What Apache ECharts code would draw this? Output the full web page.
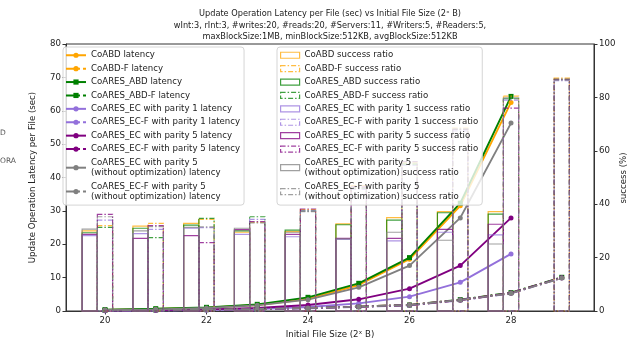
<!DOCTYPE html>
<html><head><meta charset="utf-8">
<script src="https://cdn.jsdelivr.net/npm/echarts@6/dist/echarts.min.js"></script>
<style>html,body{margin:0;padding:0;background:#fff}#c{width:629px;height:340px}</style>
</head><body><div id="c"></div>
<script>
// ---- data ----
const sizes = [20, 21, 22, 23, 24, 25, 26, 27, 28, 29];
const xTicks = [20, 22, 24, 26, 28];
const latTicks = [0, 10, 20, 30, 40, 50, 60, 70, 80];
const succTicks = [0, 20, 40, 60, 80, 100];

// latency (sec)
const latCoABD      = [0.3, 0.6, 1.0, 1.8, 3.6, 7.8, 15.5, 31.5, 62.5, null];
const latCoABDF     = [0.2, 0.3, 0.4, 0.6, 0.9, 1.3, 1.8, 3.3, 5.4, 10.0];
const latCoARESABD  = [0.4, 0.7, 1.1, 2.0, 4.1, 8.3, 16.0, 32.3, 64.3, null];
const latCoARESABDF = [0.2, 0.3, 0.4, 0.6, 0.9, 1.3, 1.8, 3.4, 5.5, 10.1];
const latEC1        = [0.1, 0.2, 0.3, 0.6, 1.2, 2.3, 4.3, 8.6, 17.1, null];
const latEC1F       = [0.1, 0.2, 0.3, 0.5, 0.8, 1.2, 1.7, 3.2, 5.3, 9.9];
const latEC5        = [0.2, 0.3, 0.5, 0.9, 1.8, 3.5, 6.7, 13.6, 27.9, null];
const latEC5F       = [0.2, 0.3, 0.4, 0.6, 0.9, 1.3, 1.8, 3.3, 5.4, 10.0];
const latEC5NO      = [0.3, 0.5, 0.9, 1.7, 3.4, 7.1, 13.6, 27.9, 56.3, null];
const latEC5NOF     = [0.2, 0.3, 0.4, 0.6, 0.9, 1.3, 1.8, 3.3, 5.3, 9.9];

// success ratio (%)
const sucCoABD      = [30.0, 31.8, 32.8, 29.5, 29.7, 32.6, 35.0, 37.2, 37.2, null];
const sucCoABDF     = [32.0, 32.8, 34.3, 33.2, 38.0, 47.0, 55.5, 68.5, 80.5, 87.2];
const sucCoARESABD  = [29.3, 31.0, 32.2, 30.0, 30.3, 32.3, 34.0, 36.8, 36.3, null];
const sucCoARESABDF = [31.3, 27.5, 34.7, 35.3, 37.5, 46.0, 55.0, 68.0, 79.5, 86.8];
const sucEC1        = [28.2, 29.0, 31.0, 28.7, 27.8, 26.8, 26.3, 29.5, 28.5, null];
const sucEC1F       = [34.0, 30.6, 31.2, 34.3, 37.5, 45.5, 54.5, 67.5, 79.0, 86.3];
const sucEC5        = [28.7, 27.2, 28.2, 30.5, 28.7, 27.2, 27.2, 30.6, 32.5, null];
const sucEC5F       = [36.2, 32.0, 25.6, 33.5, 38.2, 46.5, 56.0, 68.0, 76.0, 86.8];
const sucEC5NO      = [30.7, 30.0, 31.3, 31.0, 29.5, 27.0, 29.5, 26.5, 25.1, null];
const sucEC5NOF     = [35.3, 31.6, 31.5, 33.0, 37.2, 46.0, 55.8, 68.2, 79.8, 86.5];

// ---- styles ----
const C = {orange:'#FFA500', green:'#008000', lav:'#9370DB', purple:'#800080', gray:'#808080'};
const BC = {orange:'rgba(255,165,0,0.75)', green:'rgba(0,128,0,0.75)', lav:'rgba(147,112,219,0.75)', purple:'rgba(128,0,128,0.75)', gray:'rgba(128,128,128,0.75)'};
const FONT = 'DejaVu Sans';
const LDASH = [9, 3, 2, 3];
const BDASH = [5, 2, 1.5, 2];

function pairs(vals) {
  const out = [];
  sizes.forEach((s, i) => { if (vals[i] != null) out.push([s, vals[i]]); });
  return out;
}

function lineSeries(name, vals, color, dashed, symbol) {
  return {
    name, type: 'line', data: pairs(vals), xAxisIndex: 0, yAxisIndex: 0,
    symbol: symbol || 'circle', symbolSize: 5, showSymbol: true,
    lineStyle: {color, width: 1.9, type: dashed ? LDASH : 'solid'},
    itemStyle: {color, borderWidth: 0},
    emphasis: {disabled: true}, animation: false, z: 2
  };
}

function barSeries(name, vals, color, dashed, offset) {
  return {
    name, type: 'custom', xAxisIndex: 0, yAxisIndex: 1,
    data: pairs(vals), encode: {x: 0, y: 1},
    itemStyle: {color: 'rgba(0,0,0,0)', borderColor: color, borderWidth: 1.2, borderType: dashed ? BDASH : 'solid'},
    renderItem: function (params, api) {
      const x = api.value(0), y = api.value(1);
      const tl = api.coord([x + offset - 0.15, y]);
      const br = api.coord([x + offset + 0.15, 0]);
      return {
        type: 'rect',
        shape: {x: tl[0], y: tl[1], width: br[0] - tl[0], height: br[1] - tl[1]},
        style: {fill: 'none', stroke: color, lineWidth: 1.2, lineDash: dashed ? BDASH : null}
      };
    },
    animation: false, z: 3
  };
}

const lineDefs = [
  ['CoABD latency', latCoABD, C.orange, false, 'circle'],
  ['CoABD-F latency', latCoABDF, C.orange, true, 'circle'],
  ['CoARES_ABD latency', latCoARESABD, C.green, false, 'rect'],
  ['CoARES_ABD-F latency', latCoARESABDF, C.green, true, 'rect'],
  ['CoARES_EC with parity 1 latency', latEC1, C.lav, false, 'circle'],
  ['CoARES_EC-F with parity 1 latency', latEC1F, C.lav, true, 'circle'],
  ['CoARES_EC with parity 5 latency', latEC5, C.purple, false, 'circle'],
  ['CoARES_EC-F with parity 5 latency', latEC5F, C.purple, true, 'circle'],
  ['CoARES_EC with parity 5 (without optimization) latency', latEC5NO, C.gray, false, 'circle'],
  ['CoARES_EC-F with parity 5 (without optimization) latency', latEC5NOF, C.gray, true, 'circle']
];
const barDefs = [
  ['CoABD success ratio', sucCoABD, BC.orange, false, -0.3],
  ['CoABD-F success ratio', sucCoABDF, BC.orange, true, 0],
  ['CoARES_ABD success ratio', sucCoARESABD, BC.green, false, -0.3],
  ['CoARES_ABD-F success ratio', sucCoARESABDF, BC.green, true, 0],
  ['CoARES_EC with parity 1 success ratio', sucEC1, BC.lav, false, -0.3],
  ['CoARES_EC-F with parity 1 success ratio', sucEC1F, BC.lav, true, 0],
  ['CoARES_EC with parity 5 success ratio', sucEC5, BC.purple, false, -0.3],
  ['CoARES_EC-F with parity 5 success ratio', sucEC5F, BC.purple, true, 0],
  ['CoARES_EC with parity 5 (without optimization) success ratio', sucEC5NO, BC.gray, false, -0.3],
  ['CoARES_EC-F with parity 5 (without optimization) success ratio', sucEC5NOF, BC.gray, true, 0]
];

const series = [];
lineDefs.forEach(d => series.push(lineSeries(d[0], d[1], d[2], d[3], d[4])));
barDefs.forEach(d => series.push(barSeries(d[0], d[1], d[2], d[3], d[4])));

const legendText = {fontSize: 8.6, lineHeight: 10.5, fontFamily: FONT, color: '#222'};
const fmt = n => n.replace(' (without', '\n(without');

const option = {
  backgroundColor: '#fff',
  animation: false,
  title: {
    text: 'Update Operation Latency per File (sec) vs Initial File Size (2ˣ B)\nwInt:3, rInt:3, #writes:20, #reads:20, #Servers:11, #Writers:5, #Readers:5,\nmaxBlockSize:1MB, minBlockSize:512KB, avgBlockSize:512KB',
    left: 330, top: 8, textAlign: 'center', padding: 0,
    textStyle: {fontSize: 8.2, lineHeight: 11.6, fontWeight: 'normal', fontFamily: FONT, color: '#222'}
  },
  grid: {left: 66, right: 35, top: 44, bottom: 29, containLabel: false, outerBoundsMode: 'none',
         show: true, borderColor: '#333', borderWidth: 1, backgroundColor: 'transparent'},
  xAxis: {
    type: 'value', min: 19.232, max: 29.635,
    name: 'Initial File Size (2ˣ B)', nameLocation: 'middle', nameGap: 18,
    nameTextStyle: {fontSize: 8.6, fontFamily: FONT, color: '#222'},
    axisLine: {show: true, lineStyle: {color: '#333', width: 1}},
    axisTick: {show: true, length: 3.5, lineStyle: {color: '#333'}, customValues: xTicks},
    axisLabel: {fontSize: 8.6, fontFamily: FONT, color: '#222', margin: 5, customValues: xTicks},
    splitLine: {show: false}
  },
  yAxis: [
    {
      type: 'value', min: 0, max: 80, interval: 10, position: 'left',
      name: 'Update Operation Latency per File (sec)', nameLocation: 'middle', nameGap: 29,
      nameTextStyle: {fontSize: 8.6, fontFamily: FONT, color: '#222'},
      axisLine: {show: true, lineStyle: {color: '#333', width: 1}},
      axisTick: {show: true, length: 3.5, lineStyle: {color: '#333'}, customValues: latTicks},
      axisLabel: {fontSize: 8.6, fontFamily: FONT, color: '#222', margin: 5, customValues: latTicks},
      splitLine: {show: false}
    },
    {
      type: 'value', min: 0, max: 100, interval: 20, position: 'right',
      axisLine: {show: true, lineStyle: {color: '#333', width: 1}},
      axisTick: {show: true, length: 3.5, lineStyle: {color: '#333'}, customValues: succTicks},
      axisLabel: {fontSize: 8.6, fontFamily: FONT, color: '#222', margin: 5, customValues: succTicks},
      splitLine: {show: false}
    }
  ],
  legend: [
    {
      orient: 'vertical', left: 63, top: 47,
      padding: [3, 4, 3, 2], itemGap: 2.9, itemWidth: 20, itemHeight: 6.5,
      backgroundColor: 'rgba(255,255,255,0.8)', borderColor: '#d5d5d5', borderWidth: 1, borderRadius: 3,
      textStyle: legendText, formatter: fmt, selectedMode: false,
      data: lineDefs.map(d => ({name: d[0]}))
    },
    {
      orient: 'vertical', left: 277, top: 47,
      padding: [3, 4, 3, 3], itemGap: 2.9, itemWidth: 19, itemHeight: 6,
      backgroundColor: 'rgba(255,255,255,0.8)', borderColor: '#d5d5d5', borderWidth: 1, borderRadius: 3,
      textStyle: legendText, formatter: fmt, selectedMode: false,
      data: barDefs.map(d => ({
        name: d[0], icon: 'rect',
        itemStyle: {color: 'rgba(0,0,0,0)', borderColor: d[2], borderWidth: 1.2, borderType: d[3] ? BDASH : 'solid'}
      }))
    }
  ],
  graphic: [
    {type: 'text', left: 0, top: 129, style: {text: 'D', fontSize: 7.5, fontFamily: FONT, fill: '#555'}},
    {type: 'text', left: 0, top: 157, style: {text: 'ORA', fontSize: 7.5, fontFamily: FONT, fill: '#555'}},
    {type: 'text', x: 624, y: 178, rotation: Math.PI / 2,
     style: {text: 'success (%)', fontSize: 8.6, fontFamily: FONT, fill: '#222', align: 'center', verticalAlign: 'middle'}}
  ],
  series
};

const chart = echarts.init(document.getElementById('c'), null, {renderer: 'canvas'});
chart.setOption(option);
</script>
</body></html>
